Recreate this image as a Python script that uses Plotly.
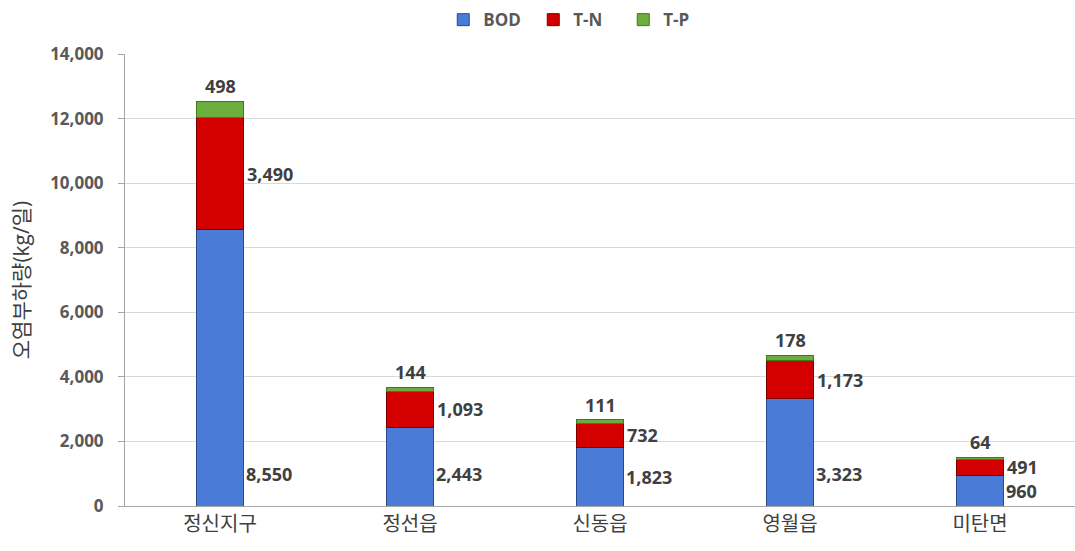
import plotly.graph_objects as go

# Pollutant load by district (kg/day)
districts = ["정신지구", "정선읍", "신동읍", "영월읍", "미탄면"]
bod = [8550, 2443, 1823, 3323, 960]
tn = [3490, 1093, 732, 1173, 491]
tp = [498, 144, 111, 178, 64]
y_ticks = [0, 2000, 4000, 6000, 8000, 10000, 12000, 14000]

FONT = "Open Sans, Noto Sans CJK KR, sans-serif"
LABEL_COLOR = "#404040"
BAR_W = 0.25
CAT_PX = 190  # pixel width of one category slot

fig = go.Figure()
series = [
    ("BOD", bod, "#4a7bd6", "#2a4c8e"),
    ("T-N", tn, "#d40000", "#7a0000"),
    ("T-P", tp, "#6cae3e", "#3f7a1e"),
]
for name, vals, color, edge in series:
    fig.add_trace(go.Bar(
        x=districts, y=vals, name=name, width=BAR_W,
        marker=dict(color=color, line=dict(color=edge, width=1)),
    ))

label_font = dict(family=FONT, size=18, color=LABEL_COLOR, weight="bold")
annotations = []
for i, d in enumerate(districts):
    # BOD value near the base, to the right of the bar
    annotations.append(dict(
        x=i, y=min(bod[i] / 2, 1000), xref="x", yref="y", text=f"{bod[i]:,}",
        showarrow=False, xanchor="left", yanchor="middle", xshift=BAR_W * CAT_PX / 2,
        font=label_font,
    ))
    # T-N value beside the middle of its segment
    annotations.append(dict(
        x=i, y=bod[i] + tn[i] / 2, xref="x", yref="y", text=f"{tn[i]:,}",
        showarrow=False, xanchor="left", yanchor="middle", xshift=BAR_W * CAT_PX / 2 + 1,
        font=label_font,
    ))
    # T-P value above the stack
    annotations.append(dict(
        x=i, y=bod[i] + tn[i] + tp[i], xref="x", yref="y", text=f"{tp[i]:,}",
        showarrow=False, xanchor="center", yanchor="bottom", yshift=1,
        font=label_font,
    ))

fig.update_layout(
    barmode="stack",
    width=1075, height=551,
    margin=dict(l=125, r=0, t=54, b=45),
    paper_bgcolor="white", plot_bgcolor="white",
    font=dict(family=FONT, color=LABEL_COLOR),
    legend=dict(
        orientation="h", x=0.335, xanchor="left", y=1.075, yanchor="middle",
        font=dict(family=FONT, size=17, color="#595959", weight="bold"),
        itemwidth=30, entrywidth=45, traceorder="normal",
    ),
    annotations=annotations,
    showlegend=True,
)
fig.update_xaxes(
    showgrid=False, showline=True, linecolor="#a6a6a6", linewidth=1,
    ticks="", tickfont=dict(family=FONT, size=20, color=LABEL_COLOR),
)
fig.update_yaxes(
    range=[0, 14000], tickvals=y_ticks, tickformat=",d",
    showgrid=True, gridcolor="#d9d9d9", gridwidth=1,
    showline=True, linecolor="#a6a6a6", linewidth=1,
    ticks="outside", ticklen=6, tickcolor="#a6a6a6", ticklabelstandoff=11,
    tickfont=dict(family=FONT, size=17, color="#595959", weight="bold"),
    title=dict(text="오염부하량(kg/일)", font=dict(family=FONT, size=21, color=LABEL_COLOR), standoff=14),
    zeroline=False,
)

fig.write_html("out.html")
